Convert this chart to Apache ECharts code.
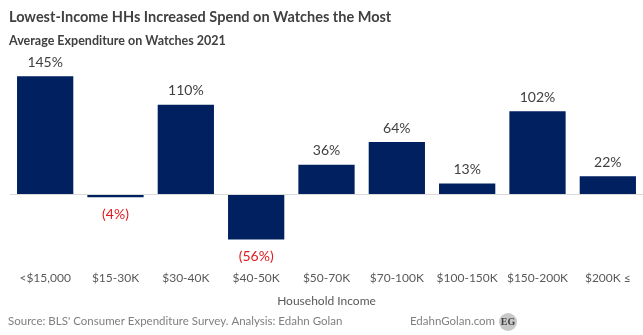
<!DOCTYPE html>
<html>
<head>
<meta charset="utf-8">
<script src="https://cdn.jsdelivr.net/npm/echarts@6/dist/echarts.min.js"></script>
<style>
  html, body { margin: 0; padding: 0; background: #ffffff; }
  #chart { width: 643px; height: 335px; }
</style>
</head>
<body>
<div id="chart"></div>
<script>
// Household income brackets and change in average spend on watches (%)
const categories = ['<$15,000', '$15-30K', '$30-40K', '$40-50K', '$50-70K', '$70-100K', '$100-150K', '$150-200K', '$200K \u2264'];
const changePct = [145, -4, 110, -56, 36, 64, 13, 102, 22];

const FONT = 'Lato, "Open Sans", sans-serif';
const NAVY = '#002060';

const chart = echarts.init(document.getElementById('chart'), null, { renderer: 'canvas' });

const barData = changePct.map(v => ({
  value: v,
  label: {
    position: v < 0 ? 'bottom' : 'top',
    distance: v < 0 ? 10 : 7,
    color: v < 0 ? '#e31a1c' : '#404040'
  }
}));

chart.setOption({
  animation: false,
  backgroundColor: '#ffffff',
  textStyle: { fontFamily: FONT },
  title: [
    {
      text: 'Lowest-Income HHs Increased Spend on Watches the Most',
      left: 4, top: 5,
      textStyle: { fontFamily: FONT, fontSize: 14.5, fontWeight: 'bold', color: '#404040' }
    },
    {
      text: 'Average Expenditure on Watches 2021',
      left: 4, top: 29,
      textStyle: { fontFamily: FONT, fontSize: 12.5, fontWeight: 'bold', color: '#404040' }
    }
  ],
  grid: { left: 10, right: 0, top: 64, bottom: 76, containLabel: false },
  xAxis: {
    type: 'category',
    data: categories,
    position: 'bottom',
    axisLine: { show: false, onZero: false },
    axisTick: { show: false },
    axisLabel: { fontFamily: FONT, fontSize: 12, color: '#595959', margin: 13, interval: 0 },
    name: 'Household Income',
    nameLocation: 'middle',
    nameGap: 36,
    nameTextStyle: { fontFamily: FONT, fontSize: 12, color: '#595959' }
  },
  yAxis: {
    type: 'value',
    min: -80, max: 160,
    show: false,
    splitLine: { show: false }
  },
  series: [{
    type: 'bar',
    data: barData,
    barCategoryGap: '20%',
    itemStyle: { color: NAVY },
    label: {
      show: true,
      fontFamily: FONT,
      fontSize: 14,
      formatter: p => p.value < 0 ? '(' + Math.abs(p.value) + '%)' : p.value + '%'
    },
    markLine: {
      silent: true,
      symbol: 'none',
      label: { show: false },
      lineStyle: { color: '#d9d9d9', width: 1, type: 'solid' },
      data: [{ yAxis: 0 }]
    },
    z: 3
  }],
  graphic: [
    {
      type: 'text', left: 8, top: 315,
      style: { text: "Source: BLS' Consumer Expenditure Survey. Analysis: Edahn Golan", fontFamily: FONT, fontSize: 11.5, fill: '#7f7f7f' }
    },
    {
      type: 'text', right: 148, top: 315,
      style: { text: 'EdahnGolan.com', fontFamily: FONT, fontSize: 11.5, fill: '#7f7f7f', align: 'left' }
    },
    {
      type: 'circle', shape: { cx: 508, cy: 322, r: 9 },
      style: { fill: '#c8c8c8' }
    },
    {
      type: 'text', x: 508, y: 322,
      style: { text: 'EG', fontFamily: '"Liberation Serif", serif', fontSize: 10, fontWeight: 'bold', fill: '#404040', align: 'center', verticalAlign: 'middle' }
    }
  ]
});
</script>
</body>
</html>
